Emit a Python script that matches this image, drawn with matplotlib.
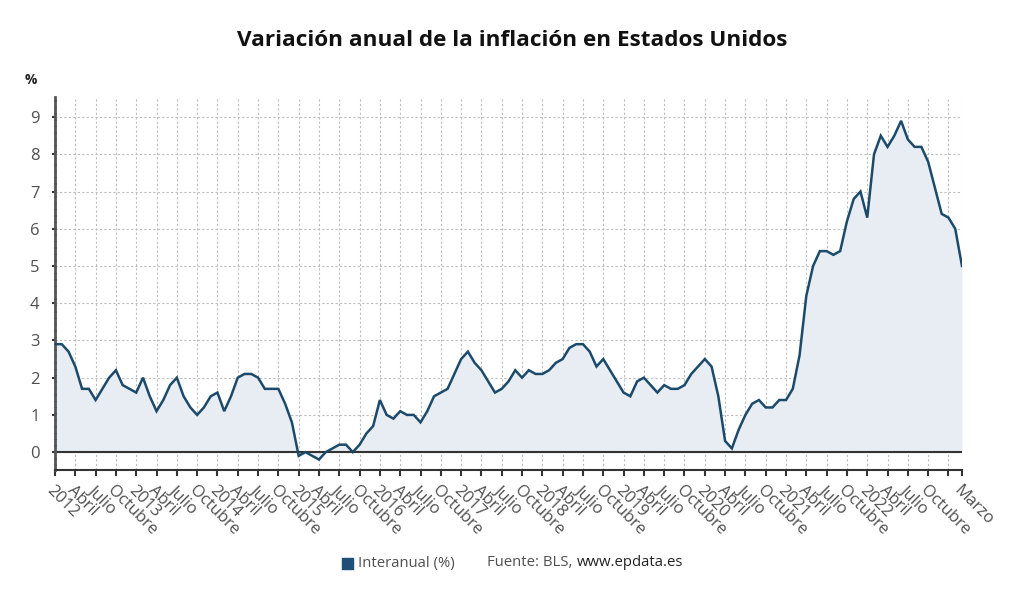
import matplotlib
matplotlib.use("Agg")
import matplotlib.pyplot as plt
from matplotlib.patches import Rectangle

plt.rcParams['font.family'] = ['Open Sans', 'DejaVu Sans']

# Monthly year-on-year inflation, Jan 2012 - Mar 2023
values_2012 = [2.9, 2.9, 2.7, 2.3, 1.7, 1.7, 1.4, 1.7, 2.0, 2.2, 1.8, 1.7]
values_2013 = [1.6, 2.0, 1.5, 1.1, 1.4, 1.8, 2.0, 1.5, 1.2, 1.0, 1.2, 1.5]
values_2014 = [1.6, 1.1, 1.5, 2.0, 2.1, 2.1, 2.0, 1.7, 1.7, 1.7, 1.3, 0.8]
values_2015 = [-0.1, 0.0, -0.1, -0.2, 0.0, 0.1, 0.2, 0.2, 0.0, 0.2, 0.5, 0.7]
values_2016 = [1.4, 1.0, 0.9, 1.1, 1.0, 1.0, 0.8, 1.1, 1.5, 1.6, 1.7, 2.1]
values_2017 = [2.5, 2.7, 2.4, 2.2, 1.9, 1.6, 1.7, 1.9, 2.2, 2.0, 2.2, 2.1]
values_2018 = [2.1, 2.2, 2.4, 2.5, 2.8, 2.9, 2.9, 2.7, 2.3, 2.5, 2.2, 1.9]
values_2019 = [1.6, 1.5, 1.9, 2.0, 1.8, 1.6, 1.8, 1.7, 1.7, 1.8, 2.1, 2.3]
values_2020 = [2.5, 2.3, 1.5, 0.3, 0.1, 0.6, 1.0, 1.3, 1.4, 1.2, 1.2, 1.4]
values_2021 = [1.4, 1.7, 2.6, 4.2, 5.0, 5.4, 5.4, 5.3, 5.4, 6.2, 6.8, 7.0]
values_2022 = [6.3, 8.0, 8.5, 8.2, 8.5, 8.9, 8.4, 8.2, 8.2, 7.8, 7.1, 6.4]
values_2023 = [6.3, 6.0, 5.0]

years = list(range(2012, 2024))
month_names = {3: 'Abril', 6: 'Julio', 9: 'Octubre'}
last_label = 'Marzo'

series = (values_2012 + values_2013 + values_2014 + values_2015 + values_2016 +
          values_2017 + values_2018 + values_2019 + values_2020 + values_2021 +
          values_2022 + values_2023)
x = list(range(len(series)))

line_color = '#1b4a6b'
fill_color = '#e8edf4'
grid_color = '#bdbdbd'
text_color = '#505050'

fig = plt.figure(figsize=(10.24, 6.01), dpi=100)
ax = fig.add_axes([55 / 1024, 1 - 470 / 601, (962 - 55) / 1024, (470 - 97) / 601])

ax.fill_between(x, series, 0, color=fill_color, zorder=1, linewidth=0)
ax.plot(x, series, color=line_color, linewidth=1.8, zorder=3, solid_joinstyle='miter')
ax.axhline(0, color='#333333', linewidth=1.5, zorder=2)

# ticks every quarter, year shown in January, final month at the end
ticks = []
labels = []
for i in range(0, len(series), 3):
    m = i % 12
    if m == 0:
        yr = years[i // 12]
        labels.append(str(yr) if yr != 2023 else '')
    else:
        labels.append(month_names[m])
    ticks.append(i)
ticks.append(len(series) - 1)
labels.append(last_label)

ax.set_xlim(0, len(series) - 1)
ax.set_ylim(-0.48, 9.54)
ax.set_xticks(ticks)
ax.set_xticklabels(labels, rotation=-45, ha='left', va='top', rotation_mode='anchor',
                   fontsize=12, color=text_color)
ax.set_yticks(range(0, 10))
ax.set_yticklabels([str(v) for v in range(0, 10)], fontsize=12, color=text_color)

ax.grid(True, color=grid_color, linestyle=(0, (2, 2)), linewidth=0.8, zorder=0)
ax.set_axisbelow(True)

for s in ['top', 'right']:
    ax.spines[s].set_visible(False)
ax.spines['left'].set_color('#555555')
ax.spines['left'].set_linewidth(2.0)
ax.spines['left'].set_linestyle((0, (1.5, 0.8)))
ax.spines['bottom'].set_color('#333333')
ax.spines['bottom'].set_linewidth(1.5)
ax.tick_params(axis='x', length=4, width=1.5, color='#333333', pad=5)
ax.tick_params(axis='y', length=2, width=1.5, color='#333333', pad=9)

fig.text(0.5, 1 - 40 / 601, 'Variación anual de la inflación en Estados Unidos',
         ha='center', va='center', fontsize=16.2, fontweight='bold', color='#111111')
fig.text(25 / 1024, 1 - 80 / 601, '%', ha='left', va='center', fontsize=10,
         fontweight='bold', color='#222222')

# legend
fig.patches.append(Rectangle((342 / 1024, 1 - 569 / 601), 11 / 1024, 11 / 601,
                             transform=fig.transFigure, color='#1f4e79'))
fig.text(358 / 1024, 1 - 563 / 601, 'Interanual (%)', ha='left', va='center',
         fontsize=10.7, color=text_color)
fig.text(487 / 1024, 1 - 563 / 601, 'Fuente: BLS, ', ha='left', va='center',
         fontsize=10.7, color=text_color)
fig.text(577 / 1024, 1 - 563 / 601, 'www.epdata.es', ha='left', va='center',
         fontsize=10.7, color='#222222')

fig.savefig('out.png', dpi=100)
